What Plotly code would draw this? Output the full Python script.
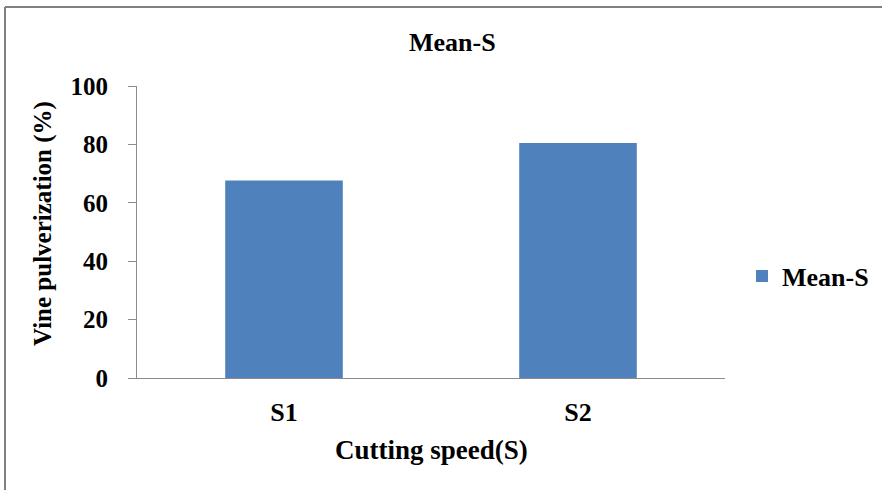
import plotly.graph_objects as go

# Mean vine pulverization by cutting speed
categories = ["S1", "S2"]
mean_s = [67.6, 80.5]
y_ticks = [0, 20, 40, 60, 80, 100]

FONT = "Liberation Serif"
AXIS_GREY = "#8c8c8c"

fig = go.Figure()
fig.add_trace(go.Bar(
    x=categories,
    y=mean_s,
    name="Mean-S",
    marker=dict(color="#4F81BD", line=dict(width=0)),
    width=0.4,
))

# Plot area spans pixels x 137..725, y 86..378 of an 882x490 page
L, R, T, B = 137, 157, 86, 112
W, H = 882, 490
pw, ph = W - L - R, H - T - B


def px_x(x):
    return (x - L) / pw


def px_y(y):
    return (H - B - y) / ph


fig.update_layout(
    width=W,
    height=H,
    margin=dict(l=L, r=R, t=T, b=B, pad=0, autoexpand=False),
    paper_bgcolor="white",
    plot_bgcolor="white",
    font=dict(family=FONT, size=25, color="black"),
    bargap=0.6,
    showlegend=True,
    legend=dict(
        x=px_x(742), y=px_y(276), xanchor="left", yanchor="middle",
        font=dict(family=FONT, size=26, color="black", weight="bold"),
        bgcolor="rgba(0,0,0,0)",
        itemwidth=30,
    ),
    xaxis=dict(
        showline=True, linecolor=AXIS_GREY, linewidth=1,
        ticks="", showgrid=False, zeroline=False,
        tickfont=dict(family=FONT, size=26, color="black", weight="bold"),
        ticklabelstandoff=11,
    ),
    yaxis=dict(
        range=[0, 100], tickvals=y_ticks,
        showline=True, linecolor=AXIS_GREY, linewidth=1,
        ticks="outside", ticklen=8, tickcolor=AXIS_GREY, tickwidth=1,
        showgrid=False, zeroline=False,
        tickfont=dict(family=FONT, size=25, color="black", weight="bold"),
        ticklabelstandoff=15,
    ),
    annotations=[
        dict(text="<b>Mean-S</b>", x=px_x(452), y=px_y(42), xref="paper", yref="paper",
             xanchor="center", yanchor="middle", showarrow=False,
             font=dict(family=FONT, size=26, color="black")),
        dict(text="<b>Cutting speed(S)</b>", x=px_x(431), y=px_y(450), xref="paper", yref="paper",
             xanchor="center", yanchor="middle", showarrow=False,
             font=dict(family=FONT, size=27, color="black")),
        dict(text="<b>Vine pulverization (%)</b>", x=px_x(43), y=px_y(224), xref="paper", yref="paper",
             xanchor="center", yanchor="middle", showarrow=False, textangle=-90,
             font=dict(family=FONT, size=25, color="black")),
    ],
    shapes=[
        # chart frame (top and left edges fall inside the page)
        dict(type="line", xref="paper", yref="paper", x0=px_x(5), x1=px_x(W + 5),
             y0=px_y(7), y1=px_y(7), line=dict(color="#808080", width=2)),
        dict(type="line", xref="paper", yref="paper", x0=px_x(5), x1=px_x(5),
             y0=px_y(7), y1=px_y(H + 5), line=dict(color="#808080", width=2)),
    ],
)

fig.write_html("out.html")
